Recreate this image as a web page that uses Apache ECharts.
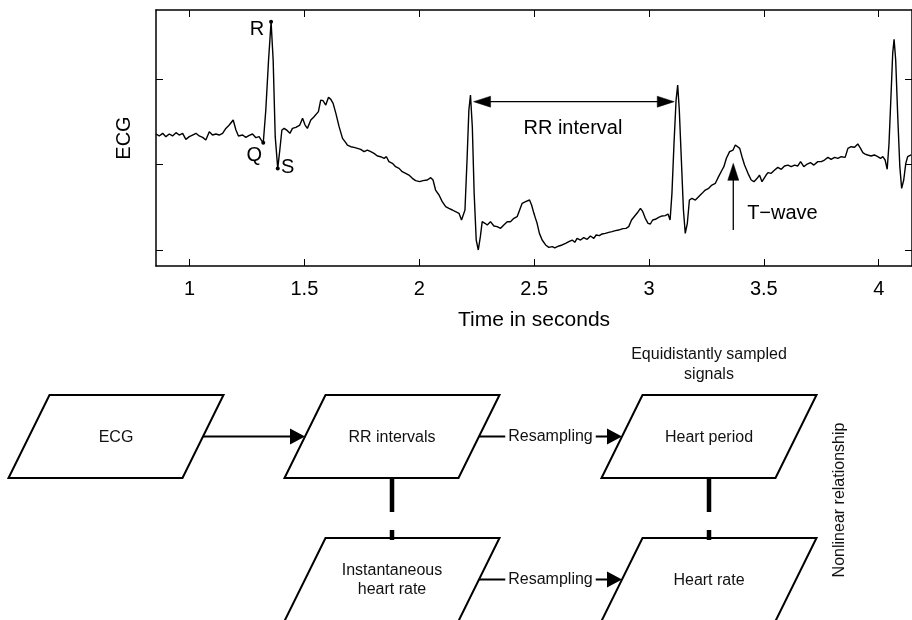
<!DOCTYPE html>
<html><head><meta charset="utf-8">
<script src="https://cdn.jsdelivr.net/npm/echarts@6/dist/echarts.min.js"></script>
<style>html,body{margin:0;padding:0;background:#fff}#main{width:912px;height:620px}</style>
</head><body><div id="main"></div>
<script>
// ---------- ECG trace (time in seconds, amplitude in axis units) ----------
const ecgTime = [
0.854,0.868,0.883,0.897,0.912,0.926,0.941,0.955,0.970,0.984,0.999,1.013,1.028,1.042,1.057,1.071,1.086,1.100,1.115,1.129,
1.144,1.158,1.173,1.190,1.202,1.213,1.231,1.245,1.260,1.274,1.289,1.303,1.310,1.321,1.332,1.344,1.355,1.364,1.373,1.384,
1.393,1.402,1.412,1.426,1.437,1.448,1.463,1.480,1.492,1.503,1.513,1.528,1.542,1.561,1.571,1.581,1.593,1.605,1.615,1.625,
1.637,1.651,1.666,1.680,1.687,1.702,1.716,1.731,1.745,1.760,1.774,1.789,1.803,1.818,1.832,1.847,1.857,1.868,1.883,1.897,
1.912,1.926,1.941,1.955,1.970,1.984,2.002,2.016,2.035,2.050,2.060,2.071,2.086,2.100,2.115,2.129,2.144,2.158,2.173,2.184,
2.190,2.199,2.208,2.216,2.223,2.231,2.239,2.248,2.257,2.266,2.274,2.286,2.296,2.310,2.325,2.339,2.354,2.368,2.383,2.397,
2.412,2.426,2.437,2.448,2.463,2.480,2.489,2.499,2.506,2.513,2.523,2.535,2.550,2.564,2.579,2.590,2.608,2.622,2.637,2.651,
2.666,2.677,2.687,2.702,2.716,2.731,2.745,2.760,2.770,2.784,2.796,2.810,2.825,2.839,2.854,2.868,2.886,2.900,2.912,2.924,
2.938,2.953,2.963,2.973,2.984,2.996,3.006,3.016,3.028,3.042,3.057,3.071,3.083,3.092,3.100,3.109,3.118,3.125,3.132,3.141,
3.150,3.158,3.167,3.176,3.187,3.202,3.216,3.231,3.245,3.260,3.274,3.289,3.303,3.318,3.326,3.337,3.351,3.366,3.376,3.384,
3.395,3.405,3.416,3.431,3.445,3.457,3.471,3.481,3.492,3.500,3.510,3.518,3.532,3.547,3.561,3.576,3.590,3.605,3.619,3.634,
3.648,3.660,3.674,3.689,3.703,3.718,3.735,3.750,3.764,3.779,3.793,3.808,3.822,3.837,3.854,3.866,3.880,3.895,3.909,3.921,
3.931,3.941,3.952,3.967,3.981,3.996,4.008,4.018,4.028,4.037,4.045,4.054,4.061,4.067,4.074,4.083,4.092,4.100,4.109,4.118,
4.126,4.141
];
const ecgValue = [
1.360,1.337,1.368,1.329,1.360,1.337,1.376,1.348,1.368,1.297,1.329,1.348,1.368,1.337,1.321,1.290,1.387,1.348,1.360,1.348,
1.368,1.426,1.465,1.524,1.407,1.337,1.348,1.321,1.344,1.360,1.317,1.329,1.297,1.258,1.641,2.227,2.677,2.227,1.329,0.957,
1.172,1.407,1.426,1.399,1.368,1.426,1.438,1.465,1.544,1.465,1.426,1.524,1.563,1.622,1.758,1.751,1.700,1.790,1.766,1.719,
1.602,1.446,1.309,1.258,1.231,1.211,1.204,1.192,1.180,1.153,1.172,1.153,1.133,1.102,1.094,1.075,1.094,1.036,1.016,0.977,
0.957,0.918,0.899,0.879,0.840,0.813,0.801,0.813,0.821,0.848,0.821,0.703,0.645,0.567,0.508,0.488,0.469,0.449,0.430,0.352,
0.332,0.469,1.055,1.641,1.817,1.446,0.664,0.117,0.000,0.156,0.332,0.313,0.293,0.332,0.281,0.274,0.254,0.293,0.332,0.332,
0.371,0.391,0.469,0.547,0.567,0.586,0.528,0.430,0.371,0.313,0.195,0.117,0.059,0.031,0.039,0.024,0.047,0.059,0.078,0.098,
0.117,0.090,0.137,0.117,0.145,0.125,0.164,0.137,0.176,0.168,0.188,0.195,0.207,0.215,0.227,0.234,0.250,0.254,0.274,0.352,
0.399,0.449,0.488,0.449,0.371,0.313,0.305,0.352,0.360,0.383,0.399,0.403,0.422,0.352,0.664,1.250,1.758,1.934,1.641,1.055,
0.469,0.195,0.313,0.586,0.606,0.586,0.625,0.664,0.703,0.723,0.762,0.782,0.860,0.938,0.977,1.075,1.153,1.172,1.231,1.250,
1.192,1.094,0.996,0.899,0.821,0.801,0.840,0.879,0.801,0.782,0.879,0.907,0.899,0.938,0.969,0.946,0.985,0.996,0.977,0.996,
0.985,1.036,0.977,1.008,1.024,0.996,1.036,1.036,1.055,1.086,1.063,1.086,1.075,1.094,1.086,1.192,1.211,1.204,1.243,1.192,
1.141,1.125,1.114,1.102,1.114,1.094,1.075,1.094,1.055,0.946,1.250,1.837,2.306,2.470,2.227,1.563,0.977,0.723,0.821,1.016,
1.094,1.114
];
const xTickValues = [1, 1.5, 2, 2.5, 3, 3.5, 4];
const yTickValues = [0, 1, 2];
// marked waves
const waveLabels = ['R', 'Q', 'S'];
const waveTime = [1.355, 1.321, 1.384];
const waveValue = [2.677, 1.258, 0.957];
// annotations
const annotTexts = ['RR interval', 'T\u2212wave'];
const annotTime = [2.669, 3.581];
const annotValue = [1.419, 0.430];
// arrows: [t1, v1, t2, v2, headAtStart, headAtEnd]
const chartArrows = [
  [2.2365, 1.739, 3.110, 1.739, 1, 1],
  [3.367, 0.234, 3.367, 1.016, 0, 1]
];
// ---------- flow diagram ----------
const boxLabels = ['ECG', 'RR intervals', 'Heart period', 'Instantaneous\nheart rate', 'Heart rate'];
const boxCol = [0, 1, 2, 1, 2];
const boxRow = [0, 0, 0, 1, 1];
const colCenter = [116, 392, 709];
const rowCenter = [436.5, 579.5];
const flowLinks = [[0, 1, ''], [1, 2, 'Resampling'], [3, 4, 'Resampling']];
const flowConnectors = [[1, 3], [2, 4]];
const noteTexts = ['Equidistantly sampled\nsignals', 'Nonlinear relationship'];

// ---------- layout / style ----------
const X_MIN = 0.854, X_MAX = 4.145, Y_MIN = -0.1876, Y_MAX = 2.814;
const FONT = "'Liberation Sans', Arial, Helvetica, sans-serif";
const BOX_W = 174, BOX_H = 83, BOX_SKEW = 41;

const chart = echarts.init(document.getElementById('main'), null, {renderer: 'canvas'});

function boxCenter(i) { return [colCenter[boxCol[i]], rowCenter[boxRow[i]]]; }

function makeArrowRender(headLen, headHalf, lineWidth) {
  return function (params, api) {
    const p1 = api.coord([api.value(0), api.value(1)]);
    const p2 = api.coord([api.value(2), api.value(3)]);
    const sh = api.value(4), eh = api.value(5);
    const dx = p2[0] - p1[0], dy = p2[1] - p1[1];
    const L = Math.hypot(dx, dy) || 1;
    const ux = dx / L, uy = dy / L, nx = -uy, ny = ux;
    const a = sh ? [p1[0] + ux * headLen * 0.8, p1[1] + uy * headLen * 0.8] : p1;
    const b = eh ? [p2[0] - ux * headLen * 0.8, p2[1] - uy * headLen * 0.8] : p2;
    const children = [{type: 'line', shape: {x1: a[0], y1: a[1], x2: b[0], y2: b[1]},
      style: {stroke: '#000', lineWidth: lineWidth}}];
    function head(tip, dx2, dy2) {
      const bx = tip[0] - dx2 * headLen, by = tip[1] - dy2 * headLen;
      return {type: 'polygon', shape: {points: [tip, [bx + nx * headHalf, by + ny * headHalf], [bx - nx * headHalf, by - ny * headHalf]]},
        style: {fill: '#000', stroke: '#000', lineWidth: 0.5}};
    }
    if (sh) children.push(head(p1, -ux, -uy));
    if (eh) children.push(head(p2, ux, uy));
    return {type: 'group', children: children};
  };
}

const ecgData = ecgTime.map((t, i) => [t, ecgValue[i]]);
const waveData = waveTime.map((t, i) => [t, waveValue[i]]);
const waveOffsets = [[-14, 8], [-9, 13], [10, -1]];
const annotData = annotTime.map((t, i) => [t, annotValue[i]]);

const boxData = boxLabels.map((l, i) => boxCenter(i).concat([i]));
const linkData = flowLinks.map((l, i) => {
  const a = boxCenter(l[0]), b = boxCenter(l[1]);
  return [a[0] + BOX_W / 2, a[1], b[0] - BOX_W / 2, b[1], i];
});
const connData = flowConnectors.map(c => {
  const a = boxCenter(c[0]), b = boxCenter(c[1]);
  return [a[0], a[1] + BOX_H / 2, b[0], b[1] - BOX_H / 2 + 2];
});
const noteData = [
  [colCenter[2], rowCenter[0] - 72, 0],
  [colCenter[2] + 131, (rowCenter[0] + rowCenter[1]) / 2 - 8, 1]
];

const axisLineStyle = {color: '#000', width: 1.5};
const labelStyle = {show: true, position: 'inside', color: '#000', opacity: 1, fontSize: 20, fontFamily: FONT};
const option = {
  animation: false,
  backgroundColor: '#fff',
  grid: [
    {left: 156, top: 10, width: 757, height: 256},
    {left: 0, top: 330, width: 912, height: 290}
  ],
  xAxis: [
    {gridIndex: 0, type: 'value', min: X_MIN, max: X_MAX, position: 'bottom',
     axisLine: {show: true, onZero: false, lineStyle: axisLineStyle},
     axisTick: {show: true, inside: true, length: 7, customValues: xTickValues, lineStyle: {color: '#000', width: 1}},
     axisLabel: {show: true, customValues: xTickValues, margin: 13, color: '#000', fontSize: 20, fontFamily: FONT},
     splitLine: {show: false},
     name: 'Time in seconds', nameLocation: 'middle', nameGap: 44,
     nameTextStyle: {color: '#000', fontSize: 21, fontFamily: FONT}},
    {gridIndex: 0, type: 'value', min: X_MIN, max: X_MAX, position: 'top',
     axisLine: {show: true, onZero: false, lineStyle: axisLineStyle},
     axisTick: {show: true, inside: true, length: 7, customValues: xTickValues, lineStyle: {color: '#000', width: 1}},
     axisLabel: {show: false}, splitLine: {show: false}},
    {gridIndex: 1, type: 'value', min: 0, max: 912, show: false}
  ],
  yAxis: [
    {gridIndex: 0, type: 'value', min: Y_MIN, max: Y_MAX, position: 'left',
     axisLine: {show: true, onZero: false, lineStyle: axisLineStyle},
     axisTick: {show: true, inside: true, length: 7, customValues: yTickValues, lineStyle: {color: '#000', width: 1}},
     axisLabel: {show: false}, splitLine: {show: false},
     name: 'ECG', nameLocation: 'middle', nameGap: 22,
     nameTextStyle: {color: '#000', fontSize: 20, fontFamily: "'Liberation Sans Narrow', " + FONT}},
    {gridIndex: 0, type: 'value', min: Y_MIN, max: Y_MAX, position: 'right',
     axisLine: {show: true, onZero: false, lineStyle: axisLineStyle},
     axisTick: {show: true, inside: true, length: 7, customValues: yTickValues, lineStyle: {color: '#000', width: 1}},
     axisLabel: {show: false}, splitLine: {show: false}},
    {gridIndex: 1, type: 'value', min: 330, max: 620, inverse: true, show: false}
  ],
  series: [
    {type: 'line', xAxisIndex: 0, yAxisIndex: 0, data: ecgData, showSymbol: false, symbol: 'none',
     lineStyle: {color: '#000', width: 1.4}, silent: true},
    {type: 'scatter', xAxisIndex: 0, yAxisIndex: 0, data: waveData, symbolSize: 4,
     itemStyle: {color: '#000', opacity: 1}, silent: true,
     label: Object.assign({}, labelStyle, {formatter: p => waveLabels[p.dataIndex]}),
     labelLayout: function (p) { const o = waveOffsets[p.dataIndex]; return {dx: o[0], dy: o[1]}; }},
    {type: 'scatter', xAxisIndex: 0, yAxisIndex: 0, data: annotData, symbolSize: 0, silent: true,
     itemStyle: {color: '#000', opacity: 1},
     label: Object.assign({}, labelStyle, {formatter: p => annotTexts[p.dataIndex]})},
    {type: 'custom', xAxisIndex: 0, yAxisIndex: 0, data: chartArrows, silent: true,
     renderItem: makeArrowRender(17, 5.5, 1.3)},
    // flow diagram
    {type: 'custom', xAxisIndex: 2, yAxisIndex: 2, data: boxData, silent: true, clip: false,
     renderItem: function (params, api) {
       const cx = api.value(0), cy = api.value(1);
       const hw = BOX_W / 2, hh = BOX_H / 2, sk = BOX_SKEW / 2;
       const pts = [[cx - hw + sk, cy - hh], [cx + hw + sk, cy - hh], [cx + hw - sk, cy + hh], [cx - hw - sk, cy + hh]].map(p => api.coord(p));
       const c = api.coord([cx, cy]);
       return {type: 'group', children: [
         {type: 'polygon', shape: {points: pts}, style: {fill: '#fff', stroke: '#000', lineWidth: 2, lineJoin: 'miter'}},
         {type: 'text', x: c[0], y: c[1] + 1, style: {text: boxLabels[params.dataIndex], align: 'center', verticalAlign: 'middle',
           fontSize: 16, fontFamily: FONT, fill: '#111', lineHeight: 19}}
       ]};
     }},
    {type: 'custom', xAxisIndex: 2, yAxisIndex: 2, data: linkData, silent: true, clip: false,
     renderItem: function (params, api) {
       const p1 = api.coord([api.value(0), api.value(1)]);
       const p2 = api.coord([api.value(2), api.value(3)]);
       const label = flowLinks[params.dataIndex][2];
       const headLen = 15, headHalf = 8;
       const children = [
         {type: 'line', shape: {x1: p1[0], y1: p1[1], x2: p2[0] - headLen + 2, y2: p2[1]}, style: {stroke: '#000', lineWidth: 2}},
         {type: 'polygon', shape: {points: [[p2[0], p2[1]], [p2[0] - headLen, p2[1] - headHalf], [p2[0] - headLen, p2[1] + headHalf]]},
          style: {fill: '#000'}}
       ];
       if (label) {
         children.push({type: 'text', x: (p1[0] + p2[0]) / 2, y: p1[1], style: {text: label, align: 'center', verticalAlign: 'middle',
           fontSize: 16, fontFamily: FONT, fill: '#111', backgroundColor: '#fff', padding: [2, 3]}});
       }
       return {type: 'group', children: children};
     }},
    {type: 'custom', xAxisIndex: 2, yAxisIndex: 2, data: connData, silent: true, clip: false,
     renderItem: function (params, api) {
       const p1 = api.coord([api.value(0), api.value(1)]);
       const p2 = api.coord([api.value(2), api.value(3)]);
       return {type: 'line', shape: {x1: p1[0], y1: p1[1], x2: p2[0], y2: p2[1]},
         style: {stroke: '#000', lineWidth: 4.5, lineDash: [34, 18], lineCap: 'butt'}};
     }},
    {type: 'custom', xAxisIndex: 2, yAxisIndex: 2, data: noteData, silent: true, clip: false,
     renderItem: function (params, api) {
       const c = api.coord([api.value(0), api.value(1)]);
       const i = params.dataIndex;
       return {type: 'text', x: c[0], y: c[1], rotation: i === 1 ? Math.PI / 2 : 0,
         style: {text: noteTexts[i], align: 'center', verticalAlign: 'middle', fontSize: 16, fontFamily: FONT,
           fill: '#111', lineHeight: 20}};
     }}
  ]
};
chart.setOption(option);
</script>
</body></html>
